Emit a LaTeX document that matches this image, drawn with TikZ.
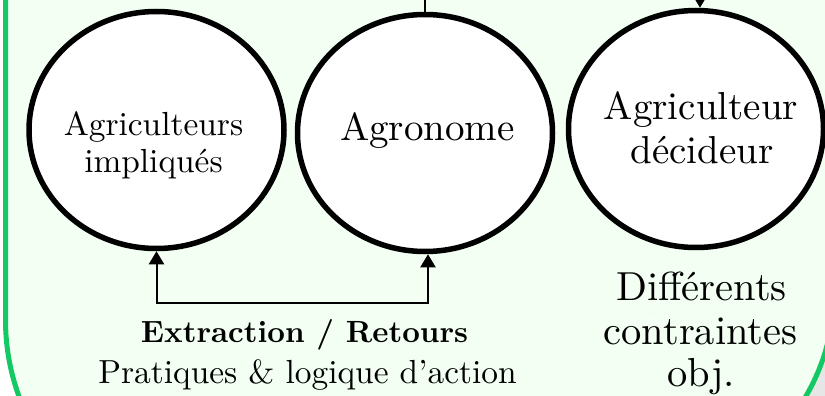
\documentclass[tikz,border=0pt]{standalone}
\usepackage{fontspec}
\setmainfont{lmroman10-regular.otf}[BoldFont=lmroman10-bold.otf]
\usetikzlibrary{shapes.geometric,arrows.meta}
\definecolor{framegreen}{RGB}{20,200,100}
\definecolor{panelfill}{RGB}{242,255,242}
\definecolor{outsidegray}{RGB}{230,230,230}
\begin{document}
\begin{tikzpicture}[x=1pt,y=-1pt,
  actor/.style={ellipse, draw=black, line width=5.5pt, fill=white,
    minimum width=255pt, minimum height=237pt, inner sep=0pt},
  link/.style={line width=2pt},
  tip/.style={-{Triangle[width=15pt,length=13pt]}},
  bothtips/.style={{Triangle[width=15pt,length=13pt]}-{Triangle[width=15pt,length=13pt]}},
  bigtxt/.style={anchor=base, inner sep=0pt, font=\fontsize{39}{47}\selectfont},
  sidetxt/.style={anchor=base, inner sep=0pt, font=\fontsize{40.5}{48}\selectfont},
  midtxt/.style={anchor=base, inner sep=0pt, font=\fontsize{33.4}{40}\selectfont},
  boldtxt/.style={anchor=base, inner sep=0pt, font=\fontsize{30.7}{37}\selectfont\bfseries},
]
% page area
\fill[white] (0,0) rectangle (825,396);
\useasboundingbox (0,0) rectangle (825,396);
\clip (0,0) rectangle (825,396);
\fill[outsidegray] (700,300) rectangle (830,400);

% green rounded panel
\path[fill=panelfill, draw=framegreen, line width=5pt]
  (5.5,-20) -- (5.5,320) arc[start angle=180, end angle=270, radius=222pt]
  -- (627,499) arc[start angle=270, end angle=360, radius=207pt]
  -- (834,-20) -- cycle;

% slide number
\node[anchor=base, inner sep=0pt, text=white, opacity=0.7,
  font=\fontsize{33}{40}\selectfont] (pagenum) at (643,340) {16};

% actors
\node[actor] (farmers) at (156.5,130) {};
\node[actor] (agro) at (425,133) {};
\node[actor] (decider) at (696,129) {};

% labels inside the actors
\node[midtxt] (farmersA) at (153.5,135) {Agriculteurs};
\node[midtxt] (farmersB) at (153.5,172) {impliqués};
\node[bigtxt] (agroA) at (427.5,140) {Agronome};
\node[bigtxt] (deciderA) at (701,120) {Agriculteur};
\node[bigtxt] (deciderB) at (702,163) {décideur};

% connectors at the top
\coordinate (agroUp) at (425,-20);
\draw[link] (agro.north) -- (agroUp);
\coordinate (deciderIn) at (700,-20);
\draw[link, tip] (deciderIn) -- (deciderIn |- decider.north);

% exchange loop between farmers and agronomist
\coordinate (loopR) at (428,303);
\draw[link, bothtips] (farmers.south) |- (loopR) -- (loopR |- agro.south);

% captions
\node[boldtxt] (loopA) at (304.5,342) {Extraction / Retours};
\node[midtxt] (loopB) at (307.5,383) {Pratiques \& logique d’action};
\node[sidetxt] (constrA) at (701.5,300) {Différents};
\node[sidetxt] (constrB) at (700.5,344) {contraintes};
\node[sidetxt] (constrC) at (701,386) {obj.};
\end{tikzpicture}
\end{document}
